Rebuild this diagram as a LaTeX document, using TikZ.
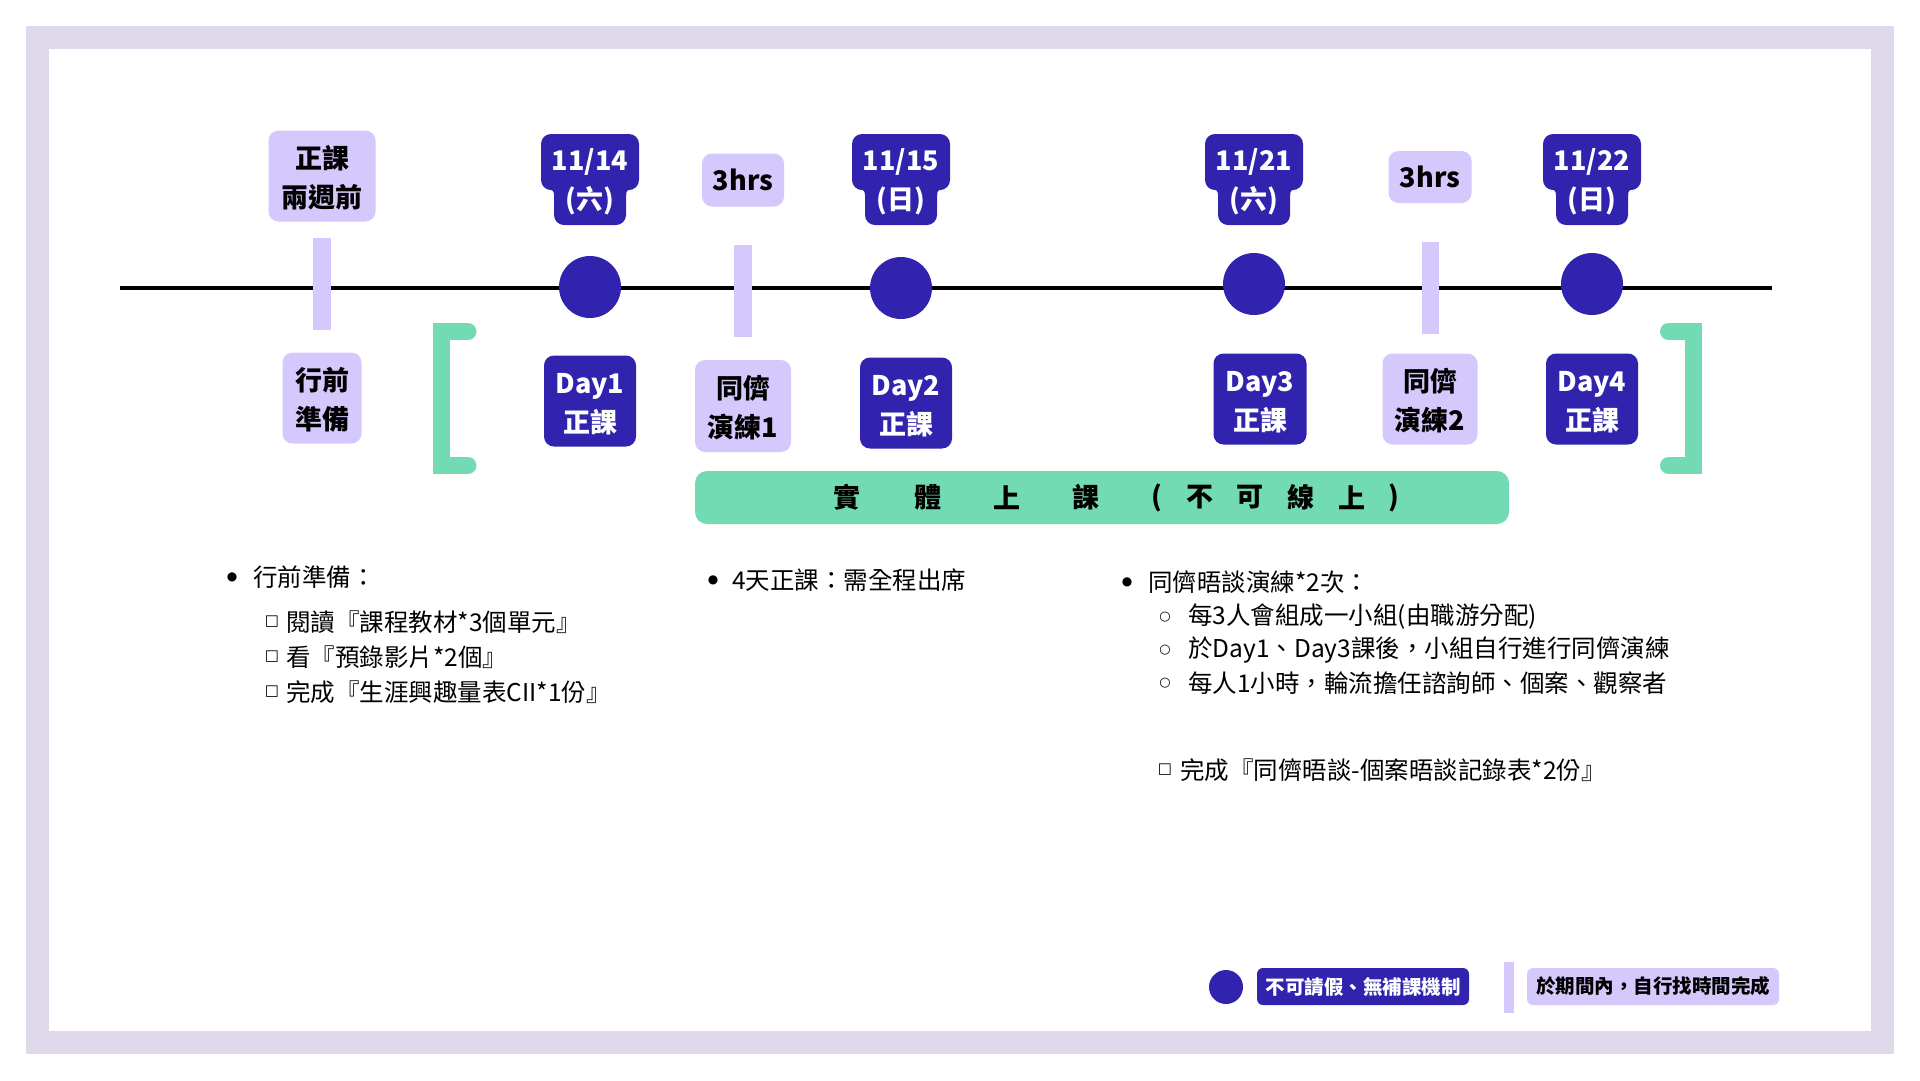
\documentclass[tikz,border=0pt]{standalone}
\usepackage{fontspec}
\setmainfont{Noto Sans CJK TC}
\newfontfamily\symfont{DejaVu Sans}
\definecolor{navy}{HTML}{3123AE}
\definecolor{lilac}{HTML}{D5C8FC}
\definecolor{mint}{HTML}{72DBB4}
\definecolor{framec}{HTML}{E0D9EC}
\newcommand\lblfont{\fontsize{27}{39}\selectfont\bfseries}
\newcommand\bodyfont{\fontsize{24.5}{30}\selectfont}
\newcommand\legfont{\fontsize{19.5}{22}\selectfont\bfseries}
\newcommand\toprule{\rule{0pt}{28pt}}
\newcommand\botrule{\rule[-5pt]{0pt}{5pt}}
\newcommand\mkdatetag[4]{%
  \begin{scope}[shift={(#2,0)}]
    \fill[navy,rounded corners=10pt] (-49,134) rectangle (49,190);
    \fill[navy,rounded corners=10pt] (-36,170) rectangle (36,225);
    \fill[navy] (36,189) -- (42,189) .. controls (38,189) and (36,191) .. (36,195) -- cycle;
    \fill[navy] (-36,189) -- (-42,189) .. controls (-38,189) and (-36,191) .. (-36,195) -- cycle;
  \end{scope}
  \node[datetext] (#1) at (#2,179) {\toprule #3\\#4\botrule};
}
\begin{document}
\begin{tikzpicture}[x=1pt,y=-1pt,
  navybox/.style={fill=navy,text=white,rounded corners=10pt,inner sep=0pt,align=center,font=\lblfont},
  lilbox/.style={fill=lilac,text=black,rounded corners=10pt,inner sep=0pt,align=center,font=\lblfont},
  datetext/.style={text=white,inner sep=0pt,align=center,font=\lblfont},
  dot/.style={circle,fill=navy,inner sep=0pt,minimum size=62pt},
  tick/.style={rectangle,fill=lilac,inner sep=0pt,minimum width=18pt,minimum height=92pt},
  bracketline/.style={draw=mint,line width=17pt,line cap=round,line join=miter},
  bartext/.style={inner sep=0pt,font=\fontsize{27}{30}\selectfont\bfseries},
  body/.style={anchor=west,inner sep=0pt,font=\bodyfont},
  bulletmark/.style={inner sep=0pt,font=\symfont\fontsize{12}{12}\selectfont},
  squaremark/.style={inner sep=0pt,font=\symfont\fontsize{15}{15}\selectfont},
  circmark/.style={inner sep=0pt,font=\symfont\fontsize{13}{13}\selectfont},
]
\useasboundingbox (0,0) rectangle (1920,1080);
% frame
\fill[framec] (26,26) rectangle (1894,1054);
\fill[white] (49,49) rectangle (1871,1031);

% timeline
\coordinate (tlA) at (120,288);
\coordinate (tlB) at (1772,288);
\draw[line width=4.5pt] (tlA) -- (tlB);

% ticks
\node[tick] (tk1) at (322,284) {};
\node[tick] (tk2) at (743,291) {};
\node[tick,minimum width=17pt] (tk3) at (1430,288) {};

% circles
\node[dot] (c1) at (590,287) {};
\node[dot] (c2) at (901,288) {};
\node[dot] (c3) at (1254,284) {};
\node[dot] (c4) at (1592,284) {};

% top labels
\node[lilbox,minimum width=107pt,minimum height=91pt] (pre) at (322,176) {\toprule 正課\\兩週前\botrule};
\mkdatetag{d1}{590}{11/14}{(六)}
\node[lilbox,minimum width=82pt,minimum height=53pt] (h1) at (743,180) {3hrs};
\mkdatetag{d2}{901}{11/15}{(日)}
\mkdatetag{d3}{1254}{11/21}{(六)}
\node[lilbox,minimum width=83pt,minimum height=52pt] (h2) at (1430,177) {3hrs};
\mkdatetag{d4}{1592}{11/22}{(日)}

% bottom labels
\node[lilbox,minimum width=79pt,minimum height=91pt] (prep) at (322,398) {\toprule 行前\\準備\botrule};
\node[navybox,minimum width=92pt,minimum height=91pt] (day1) at (590,401) {\toprule Day1\\正課\botrule};
\node[lilbox,minimum width=96pt,minimum height=92pt] (pr1) at (743,406) {\toprule 同儕\\演練1\botrule};
\node[navybox,minimum width=92pt,minimum height=91pt] (day2) at (906,403) {\toprule Day2\\正課\botrule};
\node[navybox,minimum width=93pt,minimum height=91pt] (day3) at (1260,399) {\toprule Day3\\正課\botrule};
\node[lilbox,minimum width=95pt,minimum height=91pt] (pr2) at (1430,399) {\toprule 同儕\\演練2\botrule};
\node[navybox,minimum width=92pt,minimum height=91pt] (day4) at (1592,399) {\toprule Day4\\正課\botrule};

% brackets
\draw[bracketline] (468,331.5) -- (441.5,331.5) -- (441.5,465.5) -- (468,465.5);
\draw[bracketline] (1668.5,331.5) -- (1693.5,331.5) -- (1693.5,465.5) -- (1668.5,465.5);

% mint bar
\node[fill=mint,rounded corners=12pt,minimum width=814pt,minimum height=53pt,inner sep=0pt] (bar) at (1102,497.5) {};
\foreach \c/\x [count=\i] in {實/847, 體/928, 上/1007, 課/1086, {(}/1157, 不/1200, 可/1250, 線/1301, 上/1352, {)}/1394}
  \node[bartext] (bt\i) at (\x,497.5) {\c};

% left column
\node[bulletmark] (b1) at (232,577) {●};
\node[body] (l1) at (253,577) {行前準備：};
\node[squaremark] (s1) at (272,622) {□};
\node[body] (l1a) at (286,622) {閱讀『課程教材*3個單元』};
\node[squaremark] (s2) at (272,657) {□};
\node[body] (l1b) at (286,657) {看『預錄影片*2個』};
\node[squaremark] (s3) at (272,692) {□};
\node[body] (l1c) at (286,692) {完成『生涯興趣量表CII*1份』};

% middle column
\node[bulletmark] (b2) at (713,580) {●};
\node[body] (m1) at (732,580) {4天正課：需全程出席};

% right column
\node[bulletmark] (b3) at (1127,582) {●};
\node[body] (r1) at (1148,582) {同儕晤談演練*2次：};
\node[circmark] (o1) at (1165,617) {○};
\node[body] (r1a) at (1188,617) {每3人會組成一小組(由職游分配)};
\node[circmark] (o2) at (1165,650) {○};
\node[body] (r1b) at (1188,650) {於Day1、Day3課後，小組自行進行同儕演練};
\node[circmark] (o3) at (1165,683) {○};
\node[body] (r1c) at (1188,683) {每人1小時，輪流擔任諮詢師、個案、觀察者};
\node[squaremark] (s4) at (1165,770) {□};
\node[body] (r2) at (1180,770) {完成『同儕晤談-個案晤談記錄表*2份』};

% legend
\node[circle,fill=navy,inner sep=0pt,minimum size=34pt] (lgdot) at (1226,987) {};
\node[fill=navy,text=white,rounded corners=6pt,inner sep=0pt,minimum width=212pt,minimum height=37pt,font=\legfont] (lgnavy) at (1363,986.5) {不可請假、無補課機制};
\node[fill=lilac,inner sep=0pt,minimum width=10pt,minimum height=51pt] (lgtick) at (1509,987.5) {};
\node[fill=lilac,text=black,rounded corners=6pt,inner sep=0pt,minimum width=252pt,minimum height=37pt,font=\legfont] (lglil) at (1653,986.5) {於期間內，自行找時間完成};
\end{tikzpicture}
\end{document}
